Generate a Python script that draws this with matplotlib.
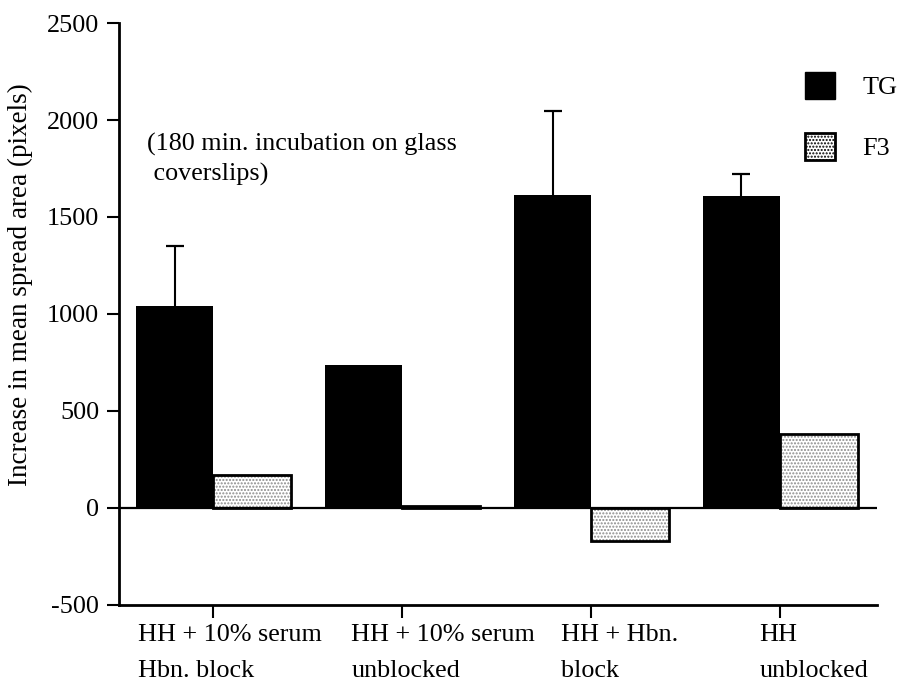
import matplotlib
matplotlib.use("Agg")
import matplotlib.pyplot as plt
import matplotlib.transforms as mtransforms
from matplotlib.patches import Patch
import numpy as np

plt.rcParams['font.family'] = ['Liberation Serif', 'DejaVu Serif']
plt.rcParams['font.size'] = 18.8
plt.rcParams['axes.unicode_minus'] = False

# spread-area data
groups = ["HH + 10% serum\nHbn. block",
          "HH + 10% serum\nunblocked",
          "HH + Hbn.\nblock",
          "HH\nunblocked"]
tg_mean = [1040, 735, 1615, 1610]
tg_err = [310, 0, 430, 110]
f3_mean = [170, 12, -170, 380]
label_shift = [-0.40, -0.27, -0.16, -0.11]

x = np.arange(len(groups))
w = 0.41

fig = plt.figure(figsize=(9, 6.91), dpi=100)
ax = fig.add_axes([0.132, 0.1245, 0.842, 0.8422])

# TG bars
ax.bar(x - w / 2, tg_mean, w, color='black', edgecolor='black', linewidth=0,
       zorder=3)

# upward-only error bars: stem plus cap
has_err = np.array(tg_err) > 0
xe = (x - w / 2)[has_err]
y0 = np.array(tg_mean)[has_err]
y1 = y0 + np.array(tg_err)[has_err]
ax.vlines(xe, y0, y1, color='black', linewidth=1.5, zorder=2)
ax.plot(xe, y1, linestyle='none', marker='_', markersize=13,
        markeredgewidth=1.6, color='black', zorder=2)

# F3 bars: stippled fill, black outline
ax.bar(x + w / 2, f3_mean, w, color='white', edgecolor='#8c8c8c', hatch='.....',
       linewidth=0, zorder=3)
ax.bar(x + w / 2, f3_mean, w, fill=False, edgecolor='black', linewidth=2,
       zorder=4)

# zero line
ax.axhline(0, color='black', linewidth=1.6, zorder=5)

ax.set_xlim(-0.5, 3.51)
ax.set_ylim(-500, 2500)
ax.set_yticks([-500, 0, 500, 1000, 1500, 2000, 2500])
ax.set_xticks(x)
ax.set_xticklabels([])
ax.spines['top'].set_visible(False)
ax.spines['right'].set_visible(False)
ax.spines['left'].set_linewidth(2)
ax.spines['bottom'].set_linewidth(2)
ax.tick_params(axis='both', direction='out', length=9, width=1.5, colors='black')
ax.tick_params(axis='y', pad=5)

ax.set_ylabel("Increase in mean spread area (pixels)", fontsize=19.5)
ax.yaxis.set_label_coords(-0.113, 0.55)

# group labels under the axis, left-aligned
trans = mtransforms.blended_transform_factory(ax.transData, ax.transAxes)
for xi, name, dx in zip(x, groups, label_shift):
    ax.text(xi + dx, -0.033, name, transform=trans, ha='left', va='top',
            linespacing=1.8)

ax.text(-0.35, 1935, "(180 min. incubation on glass\n coverslips)",
        ha='left', va='top', linespacing=1.38)

handles = [Patch(facecolor='black', edgecolor='black', label='TG'),
           Patch(facecolor='white', edgecolor='black', hatch='.....',
                 linewidth=2, label='F3')]
ax.legend(handles=handles, loc='upper left', bbox_to_anchor=(0.905, 0.916),
          frameon=False, borderpad=0, borderaxespad=0,
          handlelength=1.15, handleheight=1.2,
          labelspacing=1.3, handletextpad=1.05)

fig.savefig("out.png", dpi=100)
